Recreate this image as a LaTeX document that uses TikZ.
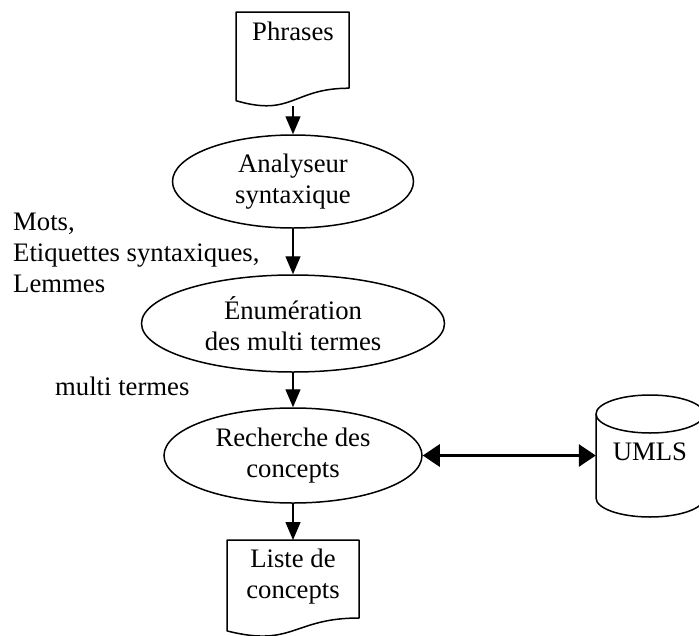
\documentclass[tikz,border=0pt]{standalone}
\usepackage{fontspec}
\setmainfont{Liberation Serif}
\usetikzlibrary{arrows.meta,shapes.geometric,calc}
\begin{document}
\begin{tikzpicture}[x=1pt,y=-1pt,
  every node/.style={font=\fontsize{26.7}{31}\selectfont, inner sep=0pt},
  proc/.style={ellipse, draw, line width=1.5pt, align=center},
  shapeline/.style={line width=1.5pt, line join=round},
  flow/.style={line width=1.4pt, -{Triangle[width=15pt,length=18pt]}},
  both/.style={line width=3pt, {Triangle[width=22pt,length=17pt]}-{Triangle[width=22pt,length=17pt]}},
  lbl/.style={align=left}]
\useasboundingbox (0,0) rectangle (699,635);

% document "Phrases"
\draw[shapeline] (236,12) -- (349,12) -- (349,88.2)
  .. controls (292.5,88.2) and (292.5,117.2) .. (236,100.7) -- cycle;
\node (phr) at (293,31) {Phrases};
\coordinate (phrb) at (293,106);

% processes
\node[proc, minimum width=241pt, minimum height=93pt] (ana) at (293,181.5) {Analyseur\\syntaxique};
\node[proc, minimum width=303pt, minimum height=97pt] (enu) at (293,323.5) {Énumération\\des multi termes};
\node[proc, minimum width=258pt, minimum height=95pt] (rec) at (293,455.5) {Recherche des\\concepts};

% document "Liste de concepts"
\draw[shapeline] (227,540) -- (359,540) -- (359,618)
  .. controls (293,618) and (293,647.7) .. (227,630.9) -- cycle;
\coordinate (lstt) at (293,540);
\node[align=center] (lst) at (293,577) {Liste de\\concepts};

% UMLS cylinder
\draw[shapeline] (650,414) ellipse[x radius=54, y radius=19];
\draw[shapeline] (596,414) -- (596,498)
  .. controls (596,508.5) and (620.2,517) .. (650,517)
  .. controls (679.8,517) and (704,508.5) .. (704,498) -- (704,414);
\node[minimum width=108pt] (umls) at (650,451.5) {UMLS};

% labels
\node[lbl, anchor=north west] (mots) at (13,212.8) {Mots,\\Etiquettes syntaxiques,\\Lemmes};
\node[anchor=base west] (mt) at (55,395) {multi termes};

% connectors
\draw[flow] (phrb) -- (ana.north);
\draw[flow] (ana.south) -- (enu.north);
\draw[flow] (enu.south) -- (rec.north);
\draw[flow] (rec.south) -- (lstt);
\draw[both] (rec.east) -- (rec.east -| umls.west);
\end{tikzpicture}
\end{document}
